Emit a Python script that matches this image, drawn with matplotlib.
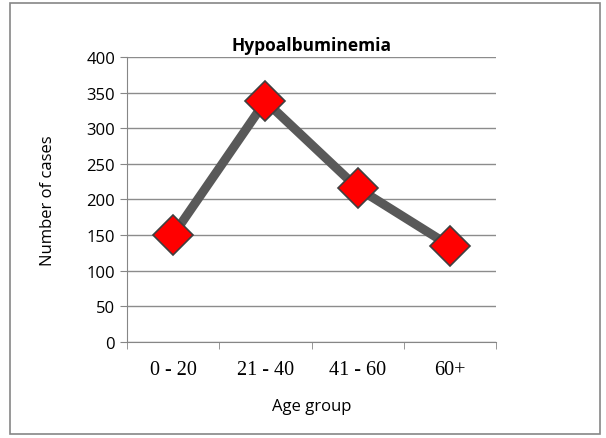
import matplotlib.pyplot as plt
from matplotlib.patches import Rectangle

age_groups = ['0 - 20', '21 - 40', '41 - 60', '60+']
cases = [150, 338, 216, 135]
yticks = [0, 50, 100, 150, 200, 250, 300, 350, 400]

fig = plt.figure(figsize=(6.06, 4.39), dpi=100)
ax = fig.add_axes([0.2096, 0.2187, 0.6089, 0.6492])

# outer chart border
fig.patches.append(Rectangle((10 / 606, 4 / 439), 590 / 606, 431 / 439,
                             transform=fig.transFigure, fill=False,
                             edgecolor='#868686', linewidth=1.2))

x = range(len(cases))
ax.plot(x, cases, color='#595959', linewidth=6.5, solid_capstyle='butt',
        marker='D', markersize=20, markerfacecolor='#ff0000',
        markeredgecolor='#404040', markeredgewidth=1.2, zorder=3)

ax.set_xlim(-0.5, 3.5)
ax.set_ylim(0, 400)
ax.set_yticks(yticks)
ax.set_xticks(x)
ax.set_xticklabels(age_groups, fontfamily='Liberation Serif', fontsize=14.5)
ax.set_xticks([-0.5, 0.5, 1.5, 2.5, 3.5], minor=True)
ax.tick_params(axis='x', which='major', length=0, pad=13)
ax.tick_params(axis='x', which='minor', length=5, color='#868686')
ax.tick_params(axis='y', length=5, color='#868686', labelsize=12)
for lab in ax.get_yticklabels():
    lab.set_fontfamily('Open Sans')

ax.grid(axis='y', color='#8c8c8c', linewidth=1)
ax.set_axisbelow(True)
for s in ['top', 'right']:
    ax.spines[s].set_visible(False)
for s in ['left', 'bottom']:
    ax.spines[s].set_color('#868686')

ax.set_title('Hypoalbuminemia', fontsize=12.5, fontweight='bold',
             fontfamily='Open Sans', pad=5)
ax.set_xlabel('Age group', fontsize=12, fontfamily='Open Sans', labelpad=14)
ax.set_ylabel('Number of cases', fontsize=12, fontfamily='Open Sans', labelpad=22)

fig.savefig('out.png', dpi=100)
